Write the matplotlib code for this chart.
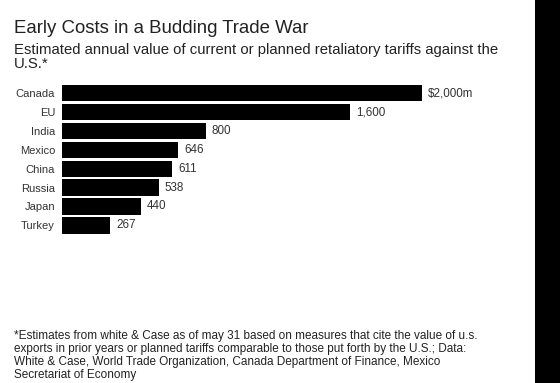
import matplotlib
matplotlib.use("Agg")
import matplotlib.pyplot as plt
from matplotlib.patches import Rectangle

plt.rcParams['font.family'] = ['Liberation Sans', 'DejaVu Sans']

countries = ["Canada", "EU", "India", "Mexico", "China", "Russia", "Japan", "Turkey"]
values = [2000, 1600, 800, 646, 611, 538, 440, 267]
value_labels = ["$2,000m", "1,600", "800", "646", "611", "538", "440", "267"]

W, H = 560, 383
fig = plt.figure(figsize=(W/100, H/100), dpi=100)
fig.patch.set_facecolor("white")

# black strip at right edge
fig.patches.append(Rectangle((535/W, 0), 25/W, 1, transform=fig.transFigure,
                             facecolor="black", edgecolor="none", zorder=0))

def fx(px): return px / W
def fy(py): return 1 - py / H

top, bottom = 83.8, 234.8
left, right = 62, 535
ax = fig.add_axes([fx(left), fy(bottom), fx(right) - fx(left), (bottom - top) / H])
ax.set_xlim(0, (right - left) / 0.18)
ax.set_ylim(len(countries) - 0.5, -0.5)
ypos = list(range(len(countries)))
ax.barh(ypos, values, height=0.87, color="black")
for y, v, lab in zip(ypos, values, value_labels):
    ax.text(v + 33, y, lab, va="center", ha="left", fontsize=8.4, color="#333333")
ax.set_yticks(ypos)
ax.set_yticklabels(countries, fontsize=8.0, color="#333333")
ax.tick_params(axis="y", length=0, pad=5)
ax.set_xticks([])
for s in ax.spines.values():
    s.set_visible(False)
ax.patch.set_alpha(0)

fig.text(fx(14), fy(32.7), "Early Costs in a Budding Trade War", fontsize=13.4,
         color="#222222", va="baseline", ha="left")
fig.text(fx(14), fy(54.3), "Estimated annual value of current or planned retaliatory tariffs against the",
         fontsize=10.75, color="#222222", va="baseline", ha="left")
fig.text(fx(14), fy(68.3), "U.S.*", fontsize=10.75, color="#222222", va="baseline", ha="left")

foot = ["*Estimates from white & Case as of may 31 based on measures that cite the value of u.s.",
        "exports in prior years or planned tariffs comparable to those put forth by the U.S.; Data:",
        "White & Case, World Trade Organization, Canada Department of Finance, Mexico",
        "Secretariat of Economy"]
for i, line in enumerate(foot):
    fig.text(fx(14), fy(339 + i * 12.9), line, fontsize=8.45, color="#222222",
             va="baseline", ha="left")

fig.savefig("out.png", dpi=100, facecolor="white")
